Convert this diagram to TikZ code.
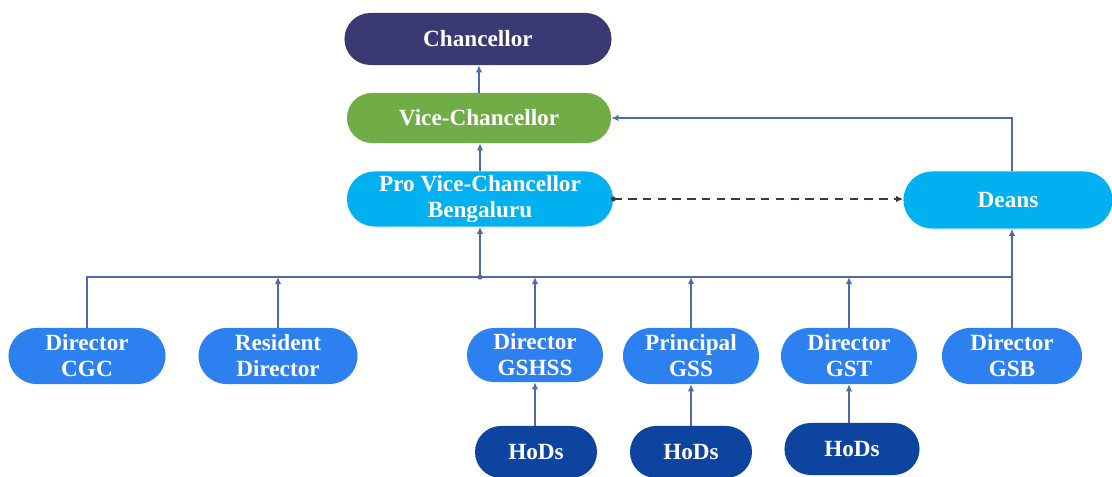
\documentclass[tikz,border=0pt]{standalone}
\usepackage{fontspec}
\setmainfont{Liberation Serif}
\usetikzlibrary{arrows.meta,shapes.misc}
\definecolor{chancnavy}{RGB}{58,57,115}
\definecolor{vcgreen}{RGB}{112,173,71}
\definecolor{skyblue}{RGB}{0,176,240}
\definecolor{dirblue}{RGB}{45,128,240}
\definecolor{hodblue}{RGB}{12,68,160}
\definecolor{linkblue}{RGB}{80,105,170}
\definecolor{dashbrown}{RGB}{60,60,45}
\tikzset{
	pill/.style={rounded rectangle,inner sep=0pt,text=white,align=center,
		font=\fontsize{16.5}{18.5}\selectfont\bfseries},
	link/.style={draw=linkblue,line width=1.4pt,-{Latex[length=5pt,width=4.5pt]}},
	bus/.style={draw=linkblue,line width=1.4pt},
	peer/.style={draw=dashbrown,line width=1.4pt,dash pattern=on 6pt off 4.5pt,
		-{Latex[length=5pt,width=4.5pt]}}
}
\begin{document}
\begin{tikzpicture}[x=0.025cm,y=-0.025cm]
		\useasboundingbox (0,0) rectangle (1112,477);
		\node[pill,fill=chancnavy,minimum width=6.675cm,minimum height=1.3cm] (chanc) at (478,39) {Chancellor};
		\node[pill,fill=vcgreen,minimum width=6.6cm,minimum height=1.25cm] (vc) at (479,118) {Vice-Chancellor};
		\node[pill,fill=skyblue,minimum width=6.65cm,minimum height=1.375cm] (provc) at (480,199) {Pro Vice-Chancellor\\Bengaluru};
		\node[pill,fill=skyblue,minimum width=5.225cm,minimum height=1.425cm] (deans) at (1008,200) {Deans};
		\node[pill,fill=dirblue,minimum width=3.925cm,minimum height=1.4cm] (cgc) at (87,356) {Director\\CGC};
		\node[pill,fill=dirblue,minimum width=3.975cm,minimum height=1.4cm] (resdir) at (278,356) {Resident\\Director};
		\node[pill,fill=dirblue,minimum width=3.4cm,minimum height=1.35cm] (gshss) at (535,355) {Director\\GSHSS};
		\node[pill,fill=dirblue,minimum width=3.4cm,minimum height=1.4cm] (gss) at (691,356) {Principal\\GSS};
		\node[pill,fill=dirblue,minimum width=3.4cm,minimum height=1.4cm] (gst) at (849,356) {Director\\GST};
		\node[pill,fill=dirblue,minimum width=3.5cm,minimum height=1.4cm] (gsb) at (1012,356) {Director\\GSB};
		\node[pill,fill=hodblue,minimum width=3.05cm,minimum height=1.3cm] (hodsa) at (536,452) {HoDs};
		\node[pill,fill=hodblue,minimum width=3.05cm,minimum height=1.3cm] (hodsb) at (691,452) {HoDs};
		\node[pill,fill=hodblue,minimum width=3.375cm,minimum height=1.3cm] (hodsc) at (852,449) {HoDs};
		\coordinate (J) at (480,277);
		\draw[link] (vc.north) -- (vc.north |- chanc.south);
		\draw[link] (provc.north) -- (provc.north |- vc.south);
		\draw[link] (gsb.north |- deans.north) |- (vc.east);
		\draw[peer] (provc.east) -- (provc.east -| deans.west);
		\fill[dashbrown] (provc.east) circle (1.8pt);
		\draw[bus] (cgc.north) |- (gsb.north |- J);
		\draw[link] (J) -- (provc.south);
		\fill[linkblue] (J) circle (1.8pt);
		\draw[link] (resdir.north) -- (resdir.north |- J);
		\draw[link] (gshss.north) -- (gshss.north |- J);
		\draw[link] (gss.north) -- (gss.north |- J);
		\draw[link] (gst.north) -- (gst.north |- J);
		\draw[link] (gsb.north) -- (gsb.north |- deans.south);
		\draw[link] (gshss.south |- hodsa.north) -- (gshss.south);
		\draw[link] (gss.south |- hodsb.north) -- (gss.south);
		\draw[link] (gst.south |- hodsc.north) -- (gst.south);
	\end{tikzpicture}
\end{document}
